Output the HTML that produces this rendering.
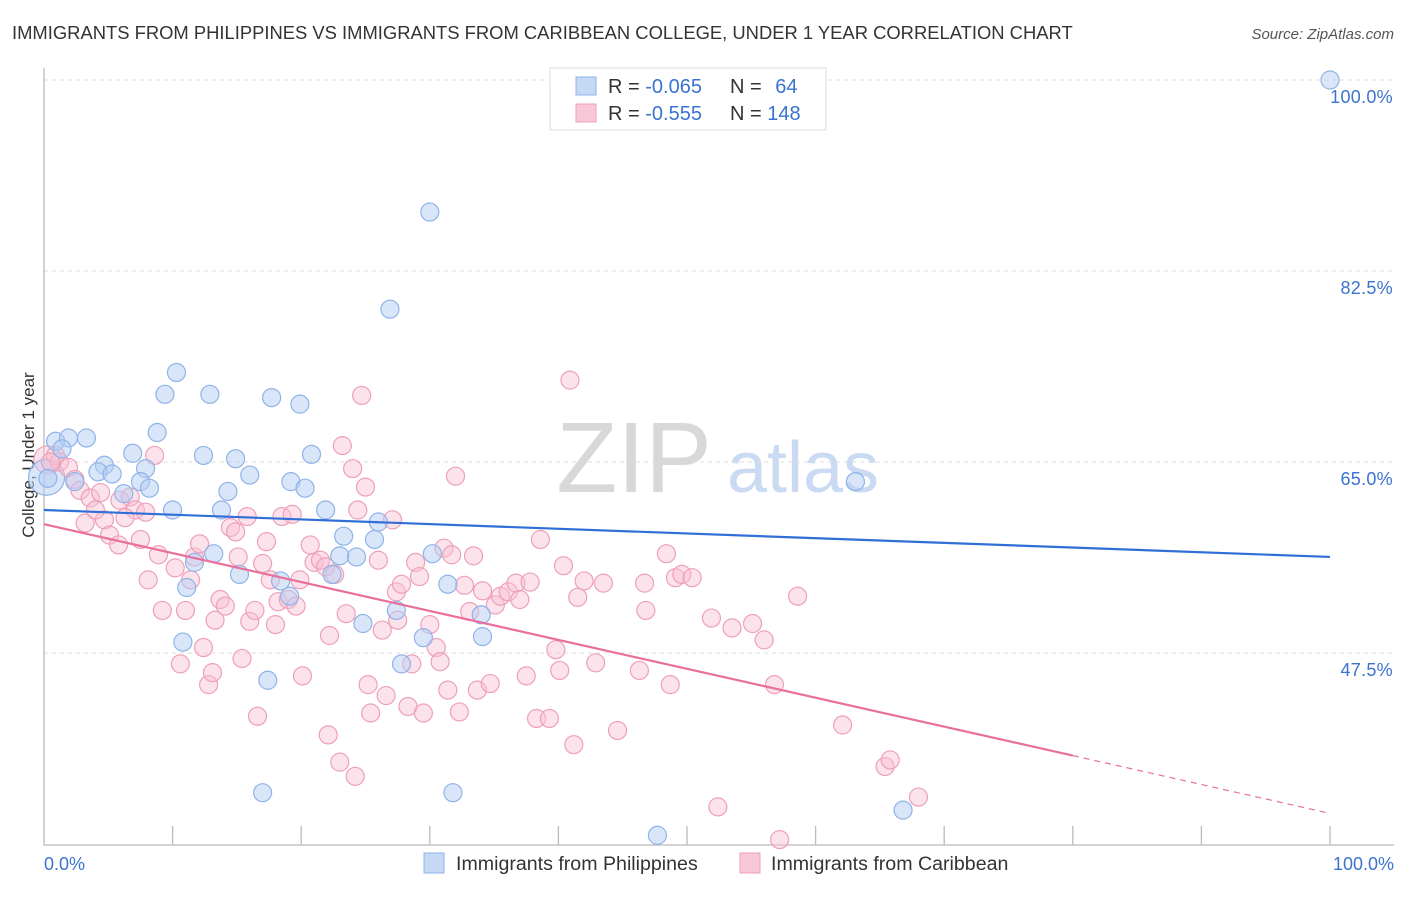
<!DOCTYPE html>
<html><head><meta charset="utf-8"><style>
body{margin:0;background:#fff;font-family:"Liberation Sans",sans-serif;}
svg text{font-family:"Liberation Sans",sans-serif;}
</style></head><body>
<svg id="chart" width="1406" height="892">
<text x="12" y="39" font-size="18.4" fill="#333">IMMIGRANTS FROM PHILIPPINES VS IMMIGRANTS FROM CARIBBEAN COLLEGE, UNDER 1 YEAR CORRELATION CHART</text>
<text x="1394" y="39" font-size="15" fill="#555" font-style="italic" text-anchor="end">Source: ZipAtlas.com</text>
<text x="634" y="492" font-size="100" fill="#d8d8d8" text-anchor="middle" font-family="Liberation Serif">ZIP</text>
<text x="803" y="492" font-size="72" fill="#c9daf2" text-anchor="middle">atlas</text>
<text transform="translate(34,455) rotate(-90)" font-size="17" fill="#333" text-anchor="middle">College, Under 1 year</text>
<g id="grid"></g><g id="axes"></g><g id="pts"></g><g id="trends"></g>
<g>
<rect x="550" y="68" width="276" height="62" fill="#fff" stroke="#ddd"/>
<rect x="576" y="77" width="20" height="18" fill="#c5d9f5" stroke="#8fb3e8"/>
<rect x="576" y="104" width="20" height="18" fill="#f9c8d8" stroke="#eea0b8"/>
<text x="608" y="93" font-size="20" fill="#333">R = <tspan fill="#3b73d1">-0.065</tspan></text>
<text x="730" y="93" font-size="20" fill="#333">N = <tspan fill="#3b73d1" dx="8">64</tspan></text>
<text x="608" y="120" font-size="20" fill="#333">R = <tspan fill="#3b73d1">-0.555</tspan></text>
<text x="730" y="120" font-size="20" fill="#333">N = <tspan fill="#3b73d1">148</tspan></text>
</g>
<g>
<rect x="424" y="853" width="20" height="20" fill="#c5d9f5" stroke="#8fb3e8"/>
<text x="456" y="870" font-size="19.6" fill="#333">Immigrants from Philippines</text>
<rect x="740" y="853" width="20" height="20" fill="#f9c8d8" stroke="#eea0b8"/>
<text x="771" y="870" font-size="19.6" fill="#333">Immigrants from Caribbean</text>
</g>
</svg>
<script>
const yTicks=[100,82.5,65,47.5];
const yTickLabels=["100.0%","82.5%","65.0%","47.5%"];
const blueX=[100,30.0,26.9,10.3,9.4,12.9,17.7,19.9,8.8,0.9,1.9,3.3,1.4,6.9,12.4,20.8,14.9,4.7,7.9,4.2,5.3,16.0,7.5,14.3,19.2,20.3,8.2,0.3,2.4,6.2,10.0,13.8,21.9,26.0,23.3,25.7,23.0,24.3,30.2,13.2,11.7,15.2,22.4,18.4,31.4,11.1,19.1,27.4,34.0,24.8,29.5,34.1,10.8,27.8,17.4,17.0,31.8,47.7,66.8,63.1];
const blueY=[100,87.9,79.0,73.2,71.2,71.2,70.9,70.3,67.7,66.9,67.2,67.2,66.2,65.8,65.6,65.7,65.3,64.7,64.4,64.1,63.9,63.8,63.2,62.3,63.2,62.6,62.6,63.5,63.2,62.1,60.6,60.6,60.6,59.5,58.2,57.9,56.4,56.3,56.6,56.6,55.8,54.7,54.7,54.1,53.8,53.5,52.7,51.4,51.0,50.2,48.9,49.0,48.5,46.5,45.0,34.7,34.7,30.8,33.1,63.2];
const pinkX=[0.9,1.2,1.9,2.4,2.8,3.6,4.4,4.7,3.2,4.0,5.1,5.8,5.9,6.7,7.1,6.3,7.5,7.9,8.6,8.9,8.1,9.2,10.2,10.6,11.0,11.4,11.7,12.1,12.4,12.8,13.1,13.3,13.7,14.1,14.5,14.9,15.1,15.4,15.8,16.0,16.4,16.6,17.0,17.3,17.6,18.0,18.2,18.5,19.0,19.3,19.6,19.9,20.1,20.7,21.0,21.5,21.9,22.1,22.2,22.6,23.0,23.2,23.5,24.0,24.2,24.4,24.7,25.0,25.2,25.4,26.0,26.3,26.6,27.1,27.4,27.5,27.8,28.3,28.6,28.9,29.2,29.5,30.0,30.5,30.8,31.1,31.4,31.7,32.0,32.3,32.7,33.1,33.4,33.7,34.1,34.7,35.1,35.5,36.1,36.7,37.0,37.5,37.8,38.3,38.6,39.3,39.8,40.1,40.4,40.9,41.2,41.5,42.0,42.9,43.5,44.6,46.7,46.8,46.3,48.4,48.7,49.1,49.6,50.4,51.9,52.4,53.5,55.1,56.0,56.8,57.2,58.6,62.1,65.4,65.8,68.0,0.5];
const pinkY=[65.6,65.0,64.5,63.4,62.4,61.7,62.2,59.7,59.4,60.6,58.3,57.4,61.5,61.8,60.6,59.9,57.9,60.4,65.6,56.5,54.2,51.4,55.3,46.5,51.4,54.2,56.3,57.5,48.0,44.6,45.7,50.5,52.4,51.8,59.0,58.6,56.3,47.0,60.0,50.4,51.4,41.7,55.7,57.7,54.2,50.1,52.2,60.0,52.4,60.2,51.8,54.2,45.4,57.4,55.8,56.0,55.4,40.0,49.1,54.7,37.5,66.5,51.1,64.4,36.2,60.6,71.1,62.7,44.6,42.0,56.0,49.6,43.6,59.7,53.1,50.5,53.8,42.6,46.5,55.8,54.5,42.0,50.1,48.0,46.7,57.1,44.1,56.5,63.7,42.1,53.7,51.3,56.4,44.1,53.2,44.7,51.9,52.7,53.1,53.9,52.4,45.4,54.0,41.5,57.9,41.5,47.8,45.9,55.5,72.5,39.1,52.6,54.1,46.6,53.9,40.4,53.9,51.4,45.9,56.6,44.6,54.4,54.7,54.4,50.7,33.4,49.8,50.2,48.7,44.6,30.4,52.7,40.9,37.1,37.7,34.3,65.0];
const bigBlue=[0.2,63.6];
const bigPink=[0.3,65.2];
const blueTrend=[60.6,56.3];   // value at x=0, x=100
const pinkTrend=[59.3,32.8];   // value at x=0, x=100
const pinkSolidEnd=80;
const X0=44,X1=1330,YT=80,PXPER=10.914;
const sx=v=>X0+(X1-X0)*v/100;
const sy=v=>YT+(100-v)*PXPER;
const NS="http://www.w3.org/2000/svg";
function mk(tag,attrs,parent){const e=document.createElementNS(NS,tag);for(const k in attrs)e.setAttribute(k,attrs[k]);parent.appendChild(e);return e;}
const grid=document.getElementById('grid'),axes=document.getElementById('axes'),pts=document.getElementById('pts'),tr=document.getElementById('trends');
yTicks.forEach((t,i)=>{
 const l=mk('line',{x1:X0,x2:1394,y1:sy(t),y2:sy(t),stroke:'#ddd','stroke-dasharray':'4,4'},grid);
 
 
 const tx=mk('text',{x:1393,y:sy(t)+23,'font-size':'18','letter-spacing':'0.3',fill:'#3b73d1','text-anchor':'end'},grid);
 tx.textContent=yTickLabels[i];
 
 
});
const ax=mk('path',{d:`M${X0} 68 V845 H1394`,stroke:'#bbb',fill:'none','stroke-width':'1.3'},axes);


for(let i=1;i<=10;i++){const t=mk('line',{x1:sx(i*10),x2:sx(i*10),y1:826,y2:845,stroke:'#bbb','stroke-width':'1.3'},axes);
 
 }
const xl0=mk('text',{x:44,y:870,'font-size':'18',fill:'#3b73d1'},axes);xl0.textContent='0.0%';


const xl1=mk('text',{x:1394,y:870,'font-size':'18',fill:'#3b73d1','text-anchor':'end'},axes);xl1.textContent='100.0%';


const bp=mk('circle',{cx:sx(bigPink[0]),cy:sy(bigPink[1]),r:14,fill:'rgba(249,190,210,0.45)',stroke:'#eea0b8','stroke-width':'1.2'},pts);


const bb=mk('circle',{cx:sx(bigBlue[0]),cy:sy(bigBlue[1]),r:18,fill:'rgba(180,205,243,0.5)',stroke:'#8fb3e8','stroke-width':'1.2'},pts);


pinkX.forEach((x,i)=>{const c=mk('circle',{cx:sx(x),cy:sy(pinkY[i]),r:9,fill:'rgba(249,190,210,0.45)',stroke:'#eea0b8','stroke-width':'1.2'},pts);
 
 });
blueX.forEach((x,i)=>{const c=mk('circle',{cx:sx(x),cy:sy(blueY[i]),r:9,fill:'rgba(180,205,243,0.5)',stroke:'#8fb3e8','stroke-width':'1.2'},pts);
 
 });
const bl=mk('line',{x1:sx(0),y1:sy(blueTrend[0]),x2:sx(100),y2:sy(blueTrend[1]),stroke:'#2f6fd6','stroke-width':'2.2'},tr);


const pv=x=>pinkTrend[0]+(pinkTrend[1]-pinkTrend[0])*x/100;
const pl=mk('line',{x1:sx(0),y1:sy(pv(0)),x2:sx(pinkSolidEnd),y2:sy(pv(pinkSolidEnd)),stroke:'#e8709a','stroke-width':'2.2'},tr);


const pd=mk('line',{x1:sx(pinkSolidEnd),y1:sy(pv(pinkSolidEnd)),x2:sx(100),y2:sy(pv(100)),stroke:'#e8709a','stroke-width':'1.2','stroke-dasharray':'6,5'},tr);


</script>
</body></html>
